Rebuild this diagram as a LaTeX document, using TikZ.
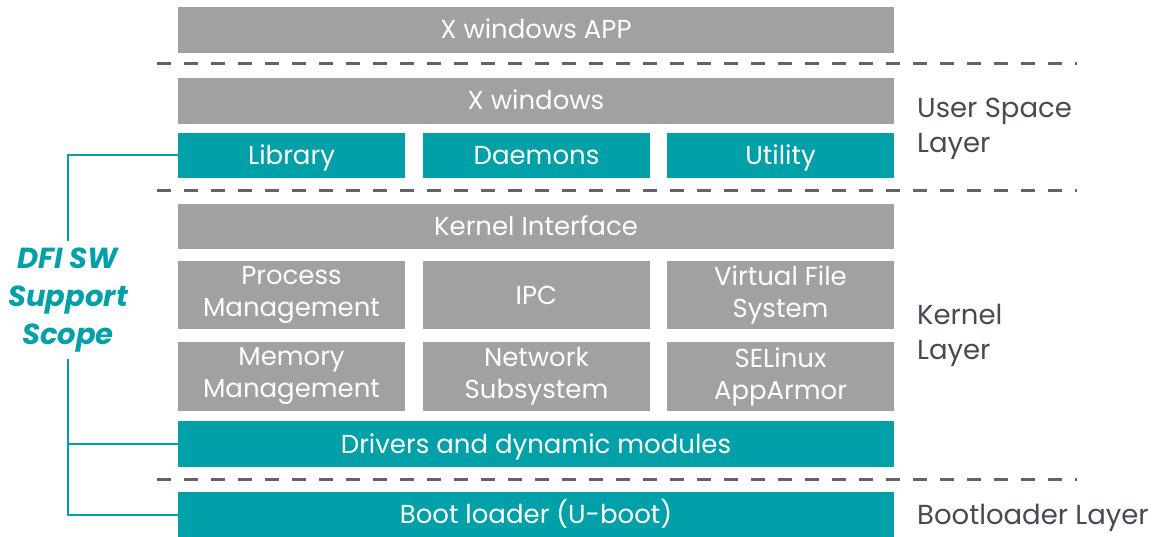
\documentclass[tikz,border=0pt]{standalone}
\usepackage{fontspec}
\setmainfont{Poppins}
\usepackage{tikz}
\usetikzlibrary{calc}
\definecolor{boxgray}{RGB}{160,161,160}
\definecolor{dfiteal}{RGB}{0,160,168}
\definecolor{dashgray}{RGB}{100,100,100}
\definecolor{labelgray}{RGB}{68,75,85}
\tikzset{graybox/.style={rectangle, fill=boxgray, text=white, inner sep=0pt,
    minimum height=46pt, align=center, font=\fontsize{26}{32}\selectfont}}
\tikzset{tealbox/.style={graybox, fill=dfiteal}}
\tikzset{oneline/.style={text height=20pt, text depth=2pt}}
\tikzset{wide/.style={minimum width=716pt, oneline}}
\tikzset{narrow/.style={minimum width=227pt}}
\tikzset{layersep/.style={dashgray, line width=3pt, dash pattern=on 14pt off 13pt}}
\tikzset{layerlabel/.style={text=labelgray, anchor=west, align=left, inner sep=0pt,
    font=\fontsize{27.5}{35}\selectfont}}
\tikzset{scopeline/.style={dfiteal, line width=2pt}}

\begin{document}
\begin{tikzpicture}[x=1pt, y=-1pt]
    \useasboundingbox (0,0) rectangle (1161,537);

    % user space
    \node [graybox, wide] (app) at (536, 30) {X windows APP};
    \node [graybox, wide] (xwin) at (536, 101) {X windows};
    \node [tealbox, narrow, oneline, minimum height=45pt] (lib) at (291.5, 155.5) {Library};
    \node [tealbox, narrow, oneline, minimum height=45pt] (dmn) at (536.5, 155.5) {Daemons};
    \node [tealbox, narrow, oneline, minimum height=45pt] (util) at (780.5, 155.5) {Utility};

    % kernel
    \node [graybox, wide, minimum height=45pt] (kif) at (536, 226.5) {Kernel Interface};
    \node [graybox, narrow, minimum height=68pt] (proc) at (291.5, 295) {Process\\Management};
    \node [graybox, narrow, oneline, minimum height=68pt] (ipc) at (536.5, 295) {IPC};
    \node [graybox, narrow, minimum height=68pt] (vfs) at (780.5, 295) {Virtual File\\System};
    \node [graybox, narrow, minimum height=69pt] (mem) at (291.5, 376.5) {Memory\\Management};
    \node [graybox, narrow, minimum height=69pt] (net) at (536.5, 376.5) {Network\\Subsystem};
    \node [graybox, narrow, minimum height=69pt] (sel) at (780.5, 376.5) {SELinux\\AppArmor};
    \node [tealbox, wide] (drv) at (536, 444) {Drivers and dynamic modules};

    % bootloader
    \node [tealbox, wide, minimum height=45pt] (boot) at (536, 514.5) {Boot loader (U-boot)};

    \draw [layersep] (157, 64) -- (1077, 64);
    \draw [layersep] (157, 191) -- (1077, 191);
    \draw [layersep] (157, 479) -- (1077, 479);

    \node [layerlabel] (ulabel) at (917, 128.5) {User Space\\Layer};
    \node [layerlabel] (klabel) at (917, 335.5) {Kernel\\Layer};
    \node [layerlabel, oneline] (blabel) at (917, 515) {Bootloader Layer};

    \node [text=dfiteal, align=center, inner xsep=2pt, inner ysep=7pt,
    font=\fontsize{29}{38}\selectfont\bfseries\itshape] (scope) at (68, 300) {DFI SW\\Support\\Scope};

    \draw [scopeline] (lib.west) -| (scope.north);
    \draw [scopeline] (boot.west) -| (scope.south);
    \draw [scopeline] (drv.west) -- (drv.west -| scope.south);
\end{tikzpicture}
\end{document}
